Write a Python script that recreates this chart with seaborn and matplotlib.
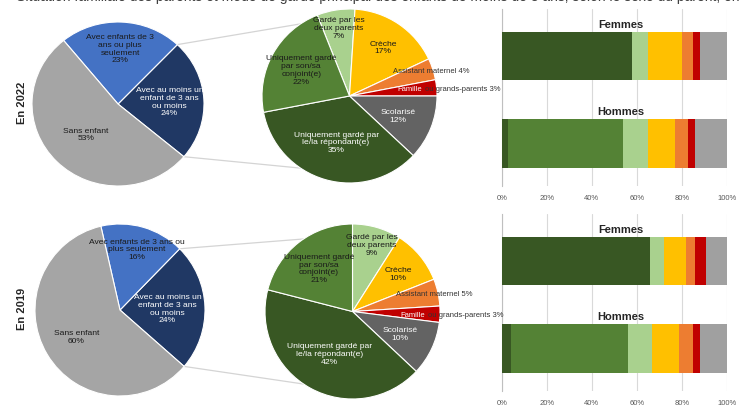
import textwrap
import matplotlib
matplotlib.use("Agg")
import matplotlib.pyplot as plt
from matplotlib.patches import ConnectionPatch
import numpy as np
import pandas as pd
import seaborn as sns

# ---------------- data ----------------
annees = ["En 2022", "En 2019"]

famille_cats = ["Avec au moins un enfant de 3 ans ou moins",
                "Avec enfants de 3 ans ou plus seulement",
                "Sans enfant"]
famille_2022 = [24, 23, 53]
famille_2019 = [24, 16, 60]

garde_cats = ["Uniquement gardé par le/la répondant(e)",
              "Uniquement gardé par son/sa conjoint(e)",
              "Gardé par les deux parents",
              "Crèche",
              "Assistant maternel",
              "Famille ou grands-parents",
              "Scolarisé"]
garde_2022 = [35, 22, 7, 17, 4, 3, 12]
garde_2019 = [42, 21, 9, 10, 5, 3, 10]

sexes = ["Femmes", "Hommes"]
bars_2022_femmes = [58, 0, 7, 15, 5, 3, 12]
bars_2022_hommes = [3, 51, 11, 12, 6, 3, 14]
bars_2019_femmes = [66, 0, 6, 10, 4, 5, 9]
bars_2019_hommes = [4, 52, 11, 12, 6, 3, 12]

x_ticks = [0, 20, 40, 60, 80, 100]
x_ticklabels = ["0%", "20%", "40%", "60%", "80%", "100%"]

titre = ("● Situation familiale des parents et mode de garde principal des enfants de moins "
         "de 3 ans, selon le sexe du parent, en 2019 et en 2022")

# ---------------- style ----------------
famille_colors = ["#203864", "#4472C4", "#A5A5A5"]
garde_colors = ["#385723", "#548235", "#A9D18E", "#FFC000", "#ED7D31", "#C00000", "#636363"]
bar_colors = ["#385723", "#548235", "#A9D18E", "#FFC000", "#ED7D31", "#C00000", "#A0A0A0"]

sns.set_theme(style="white")
plt.rcParams["font.family"] = ["Liberation Sans", "DejaVu Sans"]

W, H = 740, 406
FS = 6.1
FS_OUT = 5.5
fig = plt.figure(figsize=(W / 100, H / 100), dpi=100)


def px_axes(left, top, w, h):
    return fig.add_axes([left / W, 1 - (top + h) / H, w / W, h / H])


def draw_pie(ax, values, colors, start, counterclock):
    wedges, _ = ax.pie(values, colors=colors, startangle=start, counterclock=counterclock,
                       radius=1, wedgeprops=dict(edgecolor="white", linewidth=0.8))
    ax.set_xlim(-1, 1)
    ax.set_ylim(-1, 1)
    ax.set_aspect("auto")
    ax.axis("off")
    return wedges


def mid_angle(w):
    return np.deg2rad((w.theta1 + w.theta2) / 2)


def label_in(ax, w, text, r, color):
    a = mid_angle(w)
    ax.text(r * np.cos(a), r * np.sin(a), text, ha="center", va="center",
            fontsize=FS, color=color, linespacing=1.15)


# ---- bars ----
def draw_bars(ax, fem, hom):
    df = pd.DataFrame({"sexe": [sexes[0]] * len(fem) + [sexes[1]] * len(hom),
                       "cat": list(range(len(fem))) * 2,
                       "val": fem + hom})
    df["cum"] = df.groupby("sexe")["val"].cumsum()
    for k in reversed(range(len(fem))):
        sub = df[df["cat"] == k]
        sns.barplot(data=sub, x="cum", y="sexe", order=sexes, color=bar_colors[k],
                    orient="h", width=0.55, saturation=1, errorbar=None,
                    linewidth=0, ax=ax, zorder=3)
    ax.set_facecolor("none")
    ax.set_xlim(0, 100)
    ax.set_ylim(1.48, -0.54)
    ax.set_xticks(x_ticks)
    ax.set_xticklabels(x_ticklabels)
    ax.set_yticks([])
    ax.set_xlabel("")
    ax.set_ylabel("")
    ax.grid(axis="x", color="#d9d9d9", lw=0.8, zorder=0)
    ax.set_axisbelow(True)
    for s in ["top", "right", "bottom"]:
        ax.spines[s].set_visible(False)
    ax.spines["left"].set_color("#bfbfbf")
    ax.spines["left"].set_linewidth(0.8)
    ax.tick_params(axis="x", length=0, pad=6, labelsize=5.5, labelcolor="#595959")
    for i, s in enumerate(sexes):
        ax.text(53, i - 0.37, s, ha="center", va="center", fontsize=8,
                fontweight="bold", color="#262626")


axb1 = px_axes(501.7, 9.75, 225, 176.75)
draw_bars(axb1, bars_2022_femmes, bars_2022_hommes)
axb2 = px_axes(501.7, 214.75, 225, 176.75)
draw_bars(axb2, bars_2019_femmes, bars_2019_hommes)

# ---- pies ----
left_specs = [
    (annees[0], famille_2022, 118, 105, 86, 82, -40, [0.6, 0.68, 0.52], [16, 17, 12]),
    (annees[1], famille_2019, 120, 311, 85, 86, -41, [0.56, 0.74, 0.6], [16, 24, 12]),
]
mid_specs = [
    (garde_2022, 349.5, 97, 87.5, 87, 111.6),
    (garde_2019, 352.5, 312.5, 87.5, 87.5, 90),
]
pie_order = [2, 3, 4, 5, 6, 0, 1]
garde_r = {0: 0.55, 1: 0.63, 2: 0.8, 3: 0.68, 6: 0.6}
garde_wrap = {0: 21, 1: 16, 2: 14, 3: 20, 6: 20}
garde_txt_col = {0: "white", 1: "#1a1a1a", 2: "#1a1a1a", 3: "#1a1a1a", 6: "white"}

for (an, fam, cx, cy, rx, ry, st, rr, wr), (gar, mx, my, mrx, mry, mst) in zip(left_specs, mid_specs):
    axl = px_axes(cx - rx, cy - ry, 2 * rx, 2 * ry)
    wl = draw_pie(axl, fam, famille_colors, st, True)
    tcols = ["white", "#1a1a1a", "#1a1a1a"]
    for i, w in enumerate(wl):
        txt = textwrap.fill(famille_cats[i], wr[i]) + f"\n{fam[i]}%"
        label_in(axl, w, txt, rr[i], tcols[i])
    fig.text(22 / W, 1 - (cy - 2) / H, an, rotation=90, ha="center", va="center",
             fontsize=8, fontweight="bold", color="#262626")

    axm = px_axes(mx - mrx, my - mry, 2 * mrx, 2 * mry)
    vals = [gar[k] for k in pie_order]
    cols = [garde_colors[k] for k in pie_order]
    wm = draw_pie(axm, vals, cols, mst, False)
    for w, k in zip(wm, pie_order):
        if k in garde_r:
            txt = textwrap.fill(garde_cats[k], garde_wrap[k]) + f"\n{gar[k]}%"
            label_in(axm, w, txt, garde_r[k], garde_txt_col[k])
        elif k == 4:
            a = mid_angle(w)
            axm.text(0.5, np.sin(a) * 0.95, f"{garde_cats[k]} {gar[k]}%", ha="left",
                     va="center", fontsize=FS_OUT, color="#333333")
        else:
            a = mid_angle(w)
            first, rest = garde_cats[k].split(" ", 1)
            t1 = axm.text(0.55, np.sin(a) * 0.95, first, ha="left", va="center",
                          fontsize=FS_OUT, color="white")
            axm.annotate(f"{rest} {gar[k]}%", xy=(1, 0.5), xycoords=t1,
                         xytext=(2, 0), textcoords="offset points", ha="left",
                         va="center", fontsize=FS_OUT, color="#333333")

    # connector lines (pie of pie)
    dark = wl[0]
    for th_l, th_m in [(dark.theta2, 124), (dark.theta1, 236)]:
        a1, a2 = np.deg2rad(th_l), np.deg2rad(th_m)
        con = ConnectionPatch(xyA=(np.cos(a1), np.sin(a1)), coordsA=axl.transData,
                              xyB=(np.cos(a2), np.sin(a2)), coordsB=axm.transData,
                              color="#d4d4d4", lw=0.9, zorder=0)
        fig.add_artist(con)

fig.text(4 / W, 1.0 + 3 / H, titre, ha="left", va="center", fontsize=10, color="#404040")

fig.savefig("out.png", dpi=100)
